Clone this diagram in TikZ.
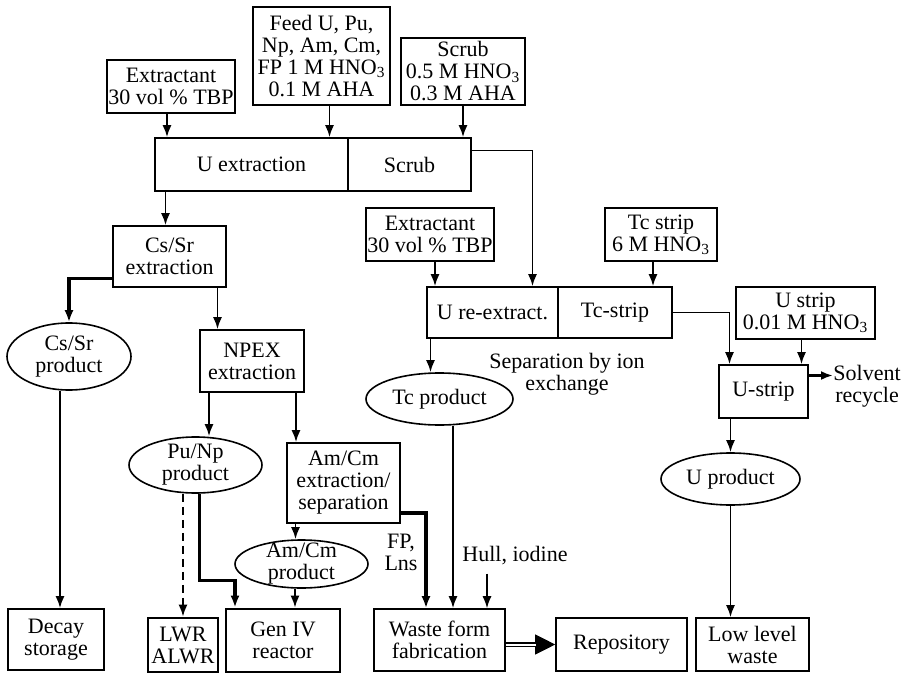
\documentclass[tikz,border=0pt]{standalone}
\usepackage{fontspec}
\setmainfont{Liberation Serif}
\usetikzlibrary{arrows.meta}
\usetikzlibrary{shapes.geometric}
\usetikzlibrary{calc}
\tikzset{
  % arrow tips and connector styles
  >={Latex[length=6pt,width=4.5pt]},
  line/.style={draw, line width=0.95pt, ->},
  heavy/.style={draw, line width=1.6pt, ->},
  thinline/.style={draw, line width=0.7pt, ->}
}

\begin{document}
\begin{tikzpicture}[x=0.5pt, y=-0.5pt]
    % Define styles
    \tikzstyle{block} = [rectangle, draw, line width=0.8pt, align=center, inner sep=0pt, font=\fontsize{11pt}{11pt}\selectfont]
    \tikzstyle{cloud} = [ellipse, draw, line width=0.8pt, align=center, inner sep=0pt, inner ysep=-2.5pt, font=\fontsize{11pt}{11pt}\selectfont]
    \tikzstyle{note} = [align=center, inner sep=0pt, font=\fontsize{11pt}{11pt}\selectfont]
    \useasboundingbox (0,0) rectangle (905,674);

    % Feeds and first extraction
    \node [block, minimum width=64pt, minimum height=26.5pt] (extractA) at (171,86.5) {Extractant\\30 vol \% TBP};
    \node [block, minimum width=68.5pt, minimum height=49pt] (feed) at (321.5,56) {Feed U, Pu,\\Np, Am, Cm,\\FP 1 M HNO\textsubscript{3}\\0.1 M AHA};
    \node [block, minimum width=62pt, minimum height=33.5pt] (scrubin) at (463,71.5) {Scrub\\0.5 M HNO\textsubscript{3}\\0.3 M AHA};
    \node [block, minimum width=96.5pt, minimum height=26.5pt] (uext) at (251.5,164.5) {U extraction};
    \node [block, minimum width=61.5pt, minimum height=26.5pt] (scrub) at (409.5,164.5) {Scrub};

    % Left branch
    \node [block, minimum width=56.5pt, minimum height=30.5pt] (cssr) at (169.5,256.5) {Cs/Sr\\extraction};
    \node [cloud, minimum width=62pt, minimum height=33.5pt] (csprod) at (69,356.5) {Cs/Sr\\product};
    \node [block, minimum width=52pt, minimum height=31pt] (npex) at (252,361) {NPEX\\extraction};
    \node [cloud, minimum width=66.5pt, minimum height=28pt] (punp) at (195.5,465) {Pu/Np\\product};
    \node [block, minimum width=56.5pt, minimum height=40pt] (amcm) at (343.5,483) {Am/Cm\\extraction/\\separation};
    \node [cloud, minimum width=66.5pt, minimum height=24pt] (amcmprod) at (301.5,564) {Am/Cm\\product};

    % Uranium / technetium branch
    \node [block, minimum width=64pt, minimum height=26.5pt] (extractB) at (430,234.5) {Extractant\\30 vol \% TBP};
    \node [block, minimum width=56pt, minimum height=26.5pt] (tcin) at (661,234.5) {Tc strip\\6 M HNO\textsubscript{3}};
    \node [block, minimum width=65.5pt, minimum height=25.5pt] (ureext) at (492.5,312.5) {U re-extract.};
    \node [block, minimum width=57pt, minimum height=25.5pt] (tcstrip) at (615,312.5) {Tc-strip};
    \node [block, minimum width=69.5pt, minimum height=26pt] (ustripin) at (805.5,313) {U strip\\0.01 M HNO\textsubscript{3}};
    \node [block, minimum width=44.5pt, minimum height=26.5pt] (ustrip) at (763.5,391.5) {U-strip};
    \node [cloud, minimum width=73.5pt, minimum height=26pt] (tcprod) at (439.5,399) {Tc product};
    \node [cloud, minimum width=69.5pt, minimum height=26pt] (uprod) at (730.5,479) {U product};

    % End points
    \node [block, minimum width=48pt, minimum height=30.5pt] (decay) at (56,639.5) {Decay\\storage};
    \node [block, line width=1.35pt, minimum width=35pt, minimum height=27pt] (lwr) at (183,645) {LWR\\ALWR};
    \node [block, line width=1.35pt, minimum width=57pt, minimum height=31.5pt] (geniv) at (283,640.5) {Gen IV\\reactor};
    \node [block, minimum width=65.5pt, minimum height=31pt] (waste) at (439.5,640) {Waste form\\fabrication};
    \node [block, minimum width=65.5pt, minimum height=26.5pt] (repo) at (621.5,644.5) {Repository};
    \node [block, minimum width=56.5pt, minimum height=26.5pt] (llw) at (752.5,644.5) {Low level\\waste};

    % Free texts
    \node [note] (sep) at (567,374) {Separation by ion\\exchange};
    \node [note, anchor=west] (solvent) at (833,386) {Solvent\\recycle};
    \node [note] (fplns) at (401,552) {FP,\\Lns};
    \node [note] (hull) at (515,556) {Hull, iodine};

    % Draw edges
    \path [line] ([xshift=-2pt]extractA.south) -- ([xshift=-2pt]extractA.south |- uext.north);
    \path [line] ([xshift=4pt]feed.south) -- ([xshift=4pt]feed.south |- uext.north);
    \path [line] (scrubin.south) -- (scrubin.south |- scrub.north);
    \path [line] ([xshift=-2pt]cssr.north |- uext.south) -- ([xshift=-2pt]cssr.north);
    \path [line] ([yshift=7pt]scrub.east) -| ([xshift=20pt]ureext.north);
    \path [heavy] ([yshift=-11pt]cssr.west) -| (csprod.north);
    \path [line] ([xshift=24pt]cssr.south) -- ([xshift=24pt]cssr.south |- npex.north);
    \path [line] ([xshift=2pt]decay.north |- csprod.south) -- ([xshift=2pt]decay.north);
    \path [line] ([xshift=-21.5pt]npex.south) -- ([xshift=-21.5pt]npex.south |- punp.north);
    \path [line] ([xshift=22pt]npex.south) -- ([xshift=22pt]npex.south |- amcm.north);
    \path [line] ([xshift=-24pt]amcm.south) -- ([xshift=-24pt]amcm.south |- amcmprod.north);
    \path [line] ([xshift=6pt]geniv.north |- amcmprod.south) -- ([xshift=6pt]geniv.north);
    \path [line, dash pattern=on 4pt off 2.5pt] (lwr.north |- punp.south) -- (lwr.north);
    \path [heavy] ([xshift=2pt]punp.south) |- ($([xshift=-24pt]geniv.north)+(0,-27)$) -- ([xshift=-24pt]geniv.north);
    \path [heavy] ([yshift=-15pt]amcm.east) -| ([xshift=-6.75pt]waste.north);
    \path [line] ([xshift=2.5pt]extractB.south) -- ([xshift=2.5pt]extractB.south |- ureext.north);
    \path [line] ([xshift=-4pt]tcin.south) -- ([xshift=-4pt]tcin.south |- tcstrip.north);
    \path [line] ([xshift=-31pt]ureext.south) -- ([xshift=-31pt]ureext.south |- tcprod.north);
    \path [line] (tcstrip.east) -| ([xshift=-17pt]ustrip.north);
    \path [line] ([xshift=-2pt]ustripin.south) -- ([xshift=-2pt]ustripin.south |- ustrip.north);
    \path [line, line width=1.3pt] ([yshift=8pt]ustrip.east) -- ([yshift=8pt]ustrip.east -| solvent.west);
    \path [line] (uprod.north |- ustrip.south) -- (uprod.north);
    \path [line] (uprod.south) -- (uprod.south |- llw.north);
    \path [line] ([xshift=6.75pt]tcprod.south) -- ([xshift=6.75pt]tcprod.south |- waste.north);
    \path [thinline, shorten <=4pt] ([xshift=-14pt]hull.south) -- ([xshift=-14pt]hull.south |- waste.north);
    \path [draw, line width=0.4pt, -{Triangle[length=10pt,width=10pt]}] (repo.west -| waste.east) -- (repo.west);
    \path [draw, double, double distance=1pt, line width=0.75pt, shorten >=9.5pt] (repo.west -| waste.east) -- (repo.west);
\end{tikzpicture}
\end{document}
